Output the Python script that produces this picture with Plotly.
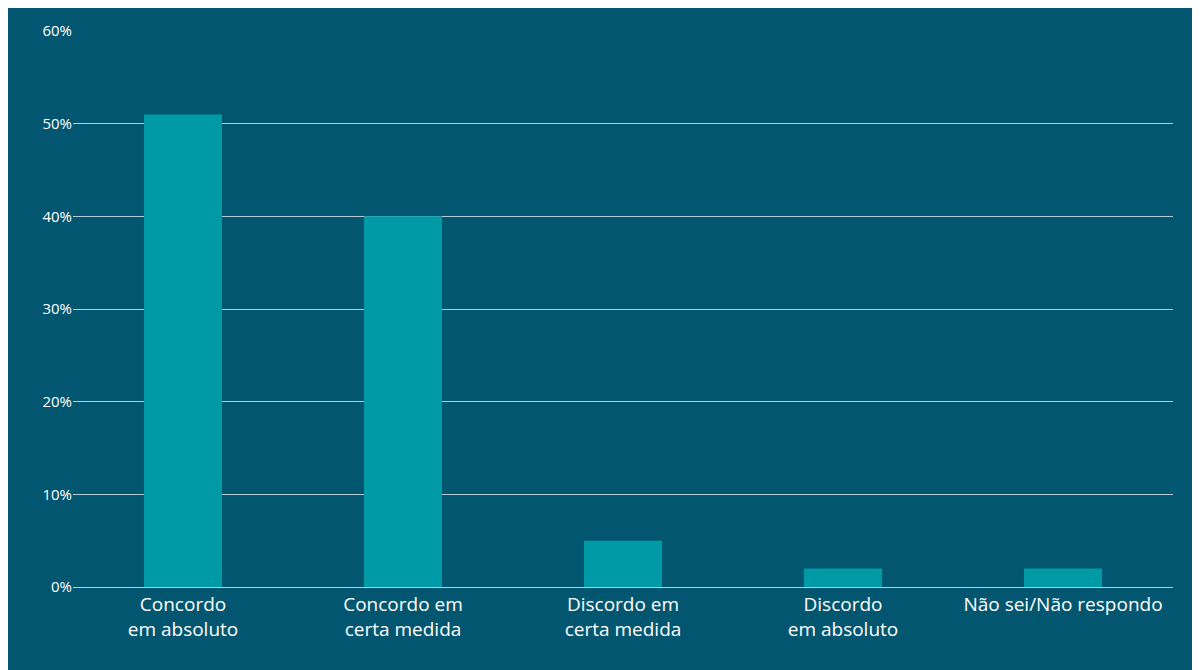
import plotly.graph_objects as go

# ============================================================
# Data
# ============================================================
categories = ["Concordo<br>em absoluto", "Concordo em<br>certa medida", "Discordo em<br>certa medida",
              "Discordo<br>em absoluto", "Não sei/Não respondo"]
values = [51, 40, 5, 2, 2]
tick_vals = [0, 10, 20, 30, 40, 50, 60]
tick_text = ["0%", "10%", "20%", "30%", "40%", "50%", "60%"]

BG = "#03566f"
BAR = "#0099a6"

fig = go.Figure()
fig.add_trace(go.Bar(x=categories, y=values, marker_color=BAR, marker_line_width=0))

fig.update_layout(
    width=1200, height=670,
    paper_bgcolor=BG, plot_bgcolor=BG,
    margin=dict(l=65, r=35, t=20, b=91),
    bargap=0.645,
    showlegend=False,
    font=dict(family="Open Sans, Lato, sans-serif", color="white", size=19),
)
fig.update_xaxes(showgrid=False, showline=True, linecolor="#b4cdd4", linewidth=1,
                 tickfont=dict(size=19), ticks="")
fig.update_yaxes(range=[0, 60], tickvals=tick_vals, ticktext=tick_text,
                 gridcolor="#b4cdd4", gridwidth=1, zeroline=False,
                 tickfont=dict(size=15), ticks="")

fig.write_html("out.html")
